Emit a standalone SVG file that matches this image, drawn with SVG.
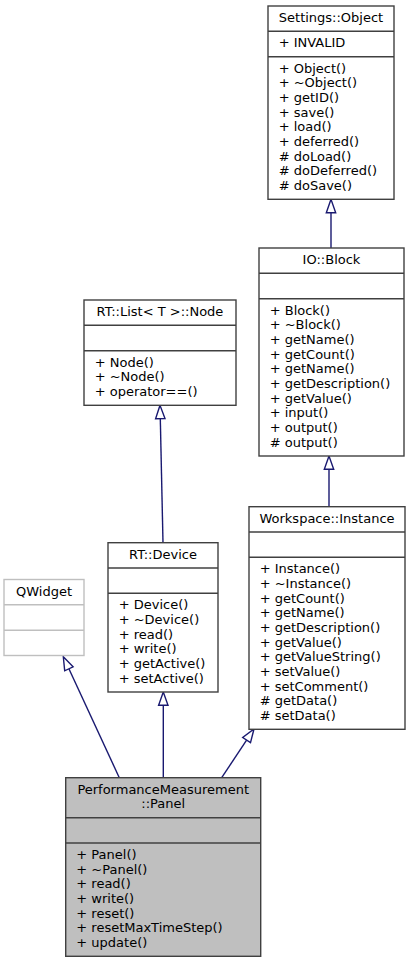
<svg xmlns="http://www.w3.org/2000/svg" width="411" height="963" viewBox="0 0 411 963">
<style>
.box{fill:#ffffff;stroke:#404040;stroke-width:1.4}
.grey{fill:#ffffff;stroke:#bfbfbf;stroke-width:1.4}
.cur{fill:#bfbfbf;stroke:#404040;stroke-width:1.4}
.sep{stroke:#404040;stroke-width:1.4}
.gsep{stroke:#bfbfbf;stroke-width:1.4}
text{font-family:"DejaVu Sans","Liberation Sans",sans-serif;font-size:13px;fill:#000000}
.c{text-anchor:middle}
.edge{stroke:#191970;stroke-width:1.4;fill:none}
.head{stroke:#191970;stroke-width:1.4;fill:#ffffff}
</style>
<rect width="411" height="963" fill="#ffffff"/>
<g id="connectors">
<line class="edge" x1="331" y1="212.7" x2="331" y2="248"/>
<polygon class="head" points="331,199.3 326.3,212.7 335.7,212.7"/>
<line class="edge" x1="329" y1="469.3" x2="329" y2="506.7"/>
<polygon class="head" points="329,456 324.3,469.3 333.7,469.3"/>
<line class="edge" x1="160.3" y1="418.6" x2="163" y2="542.7"/>
<polygon class="head" points="160,405.3 155.6,418.7 165,418.5"/>
<line class="edge" x1="163.3" y1="705.3" x2="163.3" y2="777.7"/>
<polygon class="head" points="163.3,692 158.6,705.3 168,705.3"/>
<line class="edge" x1="246.6" y1="740.1" x2="221.7" y2="777.7"/>
<polygon class="head" points="254,729 250.5,742.7 242.7,737.5"/>
<line class="edge" x1="68.9" y1="668.8" x2="119.3" y2="777.7"/>
<polygon class="head" points="63.3,656.7 73.1,666.8 64.7,670.8"/>
</g>
<g id="settings-object">
<rect class="box" x="268" y="6" width="126" height="193.3"/>
<line class="sep" x1="268" y1="31.3" x2="394" y2="31.3"/>
<line class="sep" x1="268" y1="56.7" x2="394" y2="56.7"/>
<text class="c" x="331" y="22">Settings::Object</text>
<text x="278.7" y="47.3">+ INVALID</text>
<text x="278.7" y="72.7">+ Object()</text>
<text x="278.7" y="87.3">+ ~Object()</text>
<text x="278.7" y="102">+ getID()</text>
<text x="278.7" y="116.7">+ save()</text>
<text x="278.7" y="131.3">+ load()</text>
<text x="278.7" y="146">+ deferred()</text>
<text x="278.7" y="160.7"># doLoad()</text>
<text x="278.7" y="175.3"># doDeferred()</text>
<text x="278.7" y="190"># doSave()</text>
</g>
<g id="io-block">
<rect class="box" x="259" y="248" width="145" height="208"/>
<line class="sep" x1="259" y1="273.3" x2="404" y2="273.3"/>
<line class="sep" x1="259" y1="298.7" x2="404" y2="298.7"/>
<text class="c" x="331.5" y="264">IO::Block</text>
<text x="269.7" y="314.7">+ Block()</text>
<text x="269.7" y="329.3">+ ~Block()</text>
<text x="269.7" y="344">+ getName()</text>
<text x="269.7" y="358.7">+ getCount()</text>
<text x="269.7" y="373.3">+ getName()</text>
<text x="269.7" y="388">+ getDescription()</text>
<text x="269.7" y="402.7">+ getValue()</text>
<text x="269.7" y="417.3">+ input()</text>
<text x="269.7" y="432">+ output()</text>
<text x="269.7" y="446.7"># output()</text>
</g>
<g id="rt-list-node">
<rect class="box" x="84" y="300" width="152" height="105.3"/>
<line class="sep" x1="84" y1="325.3" x2="236" y2="325.3"/>
<line class="sep" x1="84" y1="350.7" x2="236" y2="350.7"/>
<text class="c" x="160" y="316">RT::List&lt; T &gt;::Node</text>
<text x="94.7" y="366.7">+ Node()</text>
<text x="94.7" y="381.3">+ ~Node()</text>
<text x="94.7" y="396">+ operator==()</text>
</g>
<g id="rt-device">
<rect class="box" x="108" y="542.7" width="110" height="149.3"/>
<line class="sep" x1="108" y1="568" x2="218" y2="568"/>
<line class="sep" x1="108" y1="593.3" x2="218" y2="593.3"/>
<text class="c" x="163" y="558.7">RT::Device</text>
<text x="118.7" y="609.3">+ Device()</text>
<text x="118.7" y="624">+ ~Device()</text>
<text x="118.7" y="638.7">+ read()</text>
<text x="118.7" y="653.3">+ write()</text>
<text x="118.7" y="668">+ getActive()</text>
<text x="118.7" y="682.7">+ setActive()</text>
</g>
<g id="qwidget">
<rect class="grey" x="4" y="579.5" width="80" height="76"/>
<line class="gsep" x1="4" y1="604.8" x2="84" y2="604.8"/>
<line class="gsep" x1="4" y1="630.2" x2="84" y2="630.2"/>
<text class="c" x="44" y="595.5">QWidget</text>
</g>
<g id="workspace-instance">
<rect class="box" x="249" y="506.7" width="156" height="222.6"/>
<line class="sep" x1="249" y1="532" x2="405" y2="532"/>
<line class="sep" x1="249" y1="557.3" x2="405" y2="557.3"/>
<text class="c" x="327" y="522.7">Workspace::Instance</text>
<text x="259.7" y="573.3">+ Instance()</text>
<text x="259.7" y="588">+ ~Instance()</text>
<text x="259.7" y="602.7">+ getCount()</text>
<text x="259.7" y="617.3">+ getName()</text>
<text x="259.7" y="632">+ getDescription()</text>
<text x="259.7" y="646.7">+ getValue()</text>
<text x="259.7" y="661.3">+ getValueString()</text>
<text x="259.7" y="676">+ setValue()</text>
<text x="259.7" y="690.7">+ setComment()</text>
<text x="259.7" y="705.3"># getData()</text>
<text x="259.7" y="720"># setData()</text>
</g>
<g id="performancemeasurement-panel">
<rect class="cur" x="65.7" y="777.7" width="195" height="178.6"/>
<line class="sep" x1="65.7" y1="817.7" x2="260.7" y2="817.7"/>
<line class="sep" x1="65.7" y1="843" x2="260.7" y2="843"/>
<text class="c" x="163.2" y="793.7">PerformanceMeasurement</text>
<text class="c" x="163.2" y="808.3">::Panel</text>
<text x="76.3" y="859">+ Panel()</text>
<text x="76.3" y="873.7">+ ~Panel()</text>
<text x="76.3" y="888.3">+ read()</text>
<text x="76.3" y="903">+ write()</text>
<text x="76.3" y="917.7">+ reset()</text>
<text x="76.3" y="932.3">+ resetMaxTimeStep()</text>
<text x="76.3" y="947">+ update()</text>
</g>
</svg>
